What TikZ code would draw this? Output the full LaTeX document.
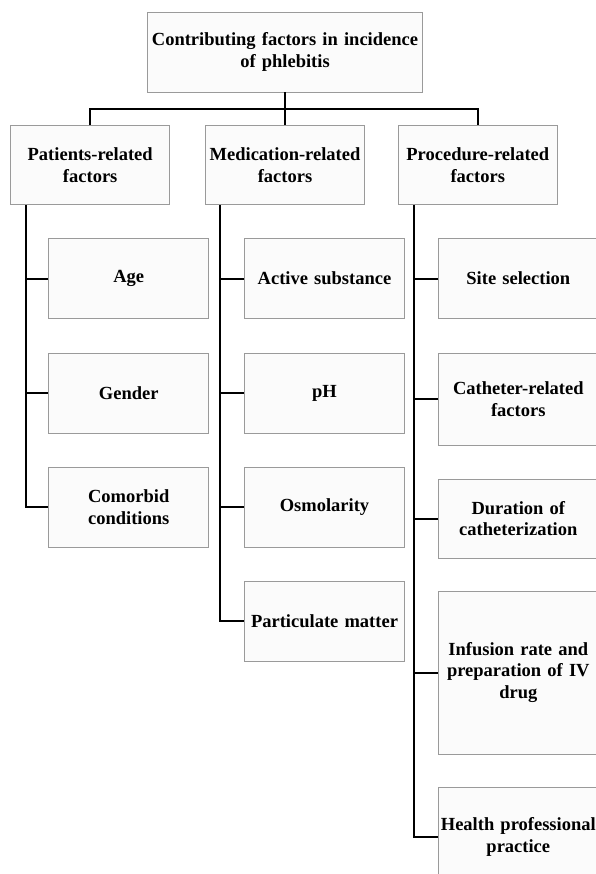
\documentclass[tikz,border=0pt]{standalone}
\usepackage{fontspec}
\setmainfont{Liberation Serif}
\usetikzlibrary{positioning}
\definecolor{boxline}{HTML}{9A9A9A}
\definecolor{boxfill}{HTML}{FBFBFB}

\begin{document}
\begin{tikzpicture}[x=1pt,y=-1pt,
    box/.style={draw=boxline,fill=boxfill,line width=0.8pt,align=center,
      font=\bfseries\fontsize{18.5}{21.5}\selectfont,inner xsep=2pt,inner ysep=0pt},
    head/.style={box,text width=155pt,minimum height=79pt},
    leaf/.style={box,text width=156pt,minimum height=80pt},
    link/.style={line width=2pt}]
  \useasboundingbox (0,0) rectangle (595,874);
  % top and the three groups
  \node[box,text width=271pt,minimum height=80pt] (root) at (285,52)
    {Contributing factors in incidence\\of phlebitis};
  \node[head,below=33pt of root] (med) {Medication-related\\factors};
  \node[head,left=35pt of med] (pat) {Patients-related\\factors};
  \node[head,right=33pt of med] (proc) {Procedure-related\\factors};
  \coordinate[below=16.5pt of root.south] (bar);
  \draw[link] (root.south) -- (med.north);
  \draw[link] (pat.north) |- (bar) -| (proc.north);

  % patients-related
  \node[leaf,below right=33pt and 38pt of pat.south west] (age) {Age};
  \node[leaf,below=34pt of age] (gnd) {Gender};
  \node[leaf,below=33pt of gnd] (cmb) {Comorbid\\conditions};
  \coordinate (pt) at ([xshift=16pt]pat.south west);
  \draw[link] (pt) |- (cmb.west);
  \foreach \n in {age,gnd}
    \draw[link] (pt |- \n.west) -- (\n.west);

  % medication-related
  \node[leaf,below right=33pt and 39pt of med.south west] (act) {Active substance};
  \node[leaf,below=34pt of act] (ph) {pH};
  \node[leaf,below=33pt of ph] (osm) {Osmolarity};
  \node[leaf,below=33pt of osm] (prt) {Particulate matter};
  \coordinate (mt) at ([xshift=15pt]med.south west);
  \draw[link] (mt) |- (prt.west);
  \foreach \n in {act,ph,osm}
    \draw[link] (mt |- \n.west) -- (\n.west);

  % procedure-related
  \node[leaf,below right=33pt and 40pt of proc.south west] (site) {Site selection};
  \node[leaf,below=34pt of site,minimum height=92pt] (cath) {Catheter-related\\factors};
  \node[leaf,below=33pt of cath,minimum height=79pt] (dur) {Duration of\\catheterization};
  \node[leaf,below=32pt of dur,minimum height=163pt] (inf)
    {Infusion rate and\\preparation of IV\\drug};
  \node[leaf,below=33pt of inf,minimum height=98pt] (hlth)
    {Health professional\\practice};
  \coordinate (rt) at ([xshift=16pt]proc.south west);
  \draw[link] (rt) |- (hlth.west);
  \foreach \n in {site,cath,dur,inf}
    \draw[link] (rt |- \n.west) -- (\n.west);
\end{tikzpicture}
\end{document}
